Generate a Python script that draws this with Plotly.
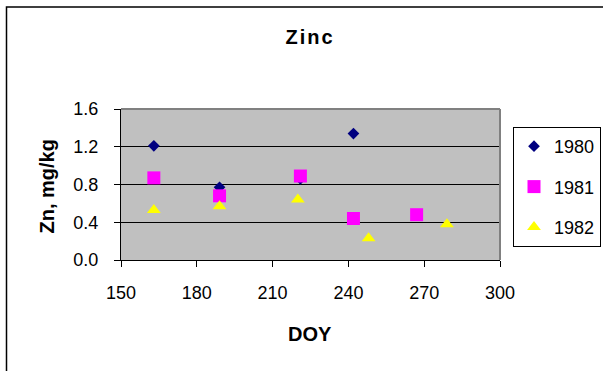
import plotly.graph_objects as go

# ---- data ----
doy_1980 = [163, 189, 221, 242]
zn_1980 = [1.21, 0.77, 0.86, 1.34]

doy_1981 = [163, 189, 221, 242, 267]
zn_1981 = [0.87, 0.68, 0.89, 0.44, 0.48]

doy_1982 = [163, 189, 220, 248, 279]
zn_1982 = [0.53, 0.57, 0.64, 0.23, 0.38]

x_ticks = [150, 180, 210, 240, 270, 300]
y_ticks = [0.0, 0.4, 0.8, 1.2, 1.6]

FONT = "Arial, Liberation Sans, sans-serif"

fig = go.Figure()
fig.add_trace(go.Scatter(x=doy_1980, y=zn_1980, mode="markers", name="1980",
                         legendgroup="a",
                         marker=dict(symbol="diamond", size=9, color="#000080")))
fig.add_trace(go.Scatter(x=doy_1981, y=zn_1981, mode="markers", name="1981",
                         legendgroup="b",
                         marker=dict(symbol="square", size=13, color="#FF00FF")))
fig.add_trace(go.Scatter(x=doy_1982, y=zn_1982, mode="markers", name="1982",
                         legendgroup="c",
                         marker=dict(symbol="triangle-up", size=12, color="#FFFF00")))

L, R, T, B = 121, 103, 109, 111
W, H = 603, 371

def px_x(px):
    return (px - L) / (W - L - R)

def px_y(py):
    return (H - B - py) / (H - T - B)

fig.update_layout(
    width=W, height=H,
    margin=dict(l=L, r=R, t=T, b=B, pad=0, autoexpand=False),
    paper_bgcolor="white",
    plot_bgcolor="#C0C0C0",
    font=dict(family=FONT, color="black", size=18),
    title=dict(text='<span style="letter-spacing:2px"><b>Zinc</b></span>',
               x=px_x(310), xref="paper", xanchor="center",
               y=1 - 37 / H, yref="container", yanchor="middle",
               font=dict(size=20, family=FONT, color="black")),
    xaxis=dict(range=[150, 300], tickvals=x_ticks, ticks="outside", ticklen=6,
               tickcolor="black", showline=True, linecolor="black", linewidth=1,
               showgrid=False, zeroline=False, ticklabelstandoff=10,
               tickfont=dict(size=18)),
    yaxis=dict(range=[0, 1.6], tickvals=y_ticks, tickformat=".1f",
               ticks="outside", ticklen=6, tickcolor="black",
               showline=True, linecolor="black", linewidth=1,
               showgrid=True, gridcolor="black", gridwidth=1, zeroline=False,
               ticklabelstandoff=12, tickfont=dict(size=18)),
    legend=dict(x=px_x(513), y=px_y(127), xanchor="left", yanchor="top",
                bordercolor="black", borderwidth=1, bgcolor="white",
                font=dict(size=18, family=FONT), tracegroupgap=14,
                itemsizing="trace"),
    showlegend=True,
)

fig.add_annotation(text="<b>Zn, mg/kg</b>", textangle=-90, showarrow=False,
                   xref="paper", yref="paper", x=px_x(46.5), y=px_y(187),
                   xanchor="center", yanchor="middle",
                   font=dict(size=20, family=FONT, color="black"))
fig.add_annotation(text="<b>DOY</b>", showarrow=False,
                   xref="paper", yref="paper", x=px_x(309.5), y=px_y(333.5),
                   xanchor="center", yanchor="middle",
                   font=dict(size=20, family=FONT, color="black"))

# plot-area top/right gray border
fig.add_shape(type="line", xref="paper", yref="paper", x0=0, x1=1, y0=1, y1=1,
              line=dict(color="#808080", width=2))
fig.add_shape(type="line", xref="paper", yref="paper", x0=1, x1=1, y0=0, y1=1,
              line=dict(color="#808080", width=2))
# outer chart frame (clipped by the page at right/bottom)
fig.add_shape(type="rect", xref="paper", yref="paper",
              x0=px_x(6.5), x1=px_x(640), y0=px_y(400), y1=px_y(7),
              line=dict(color="black", width=1.5), fillcolor="rgba(0,0,0,0)")

fig.write_html("out.html")
